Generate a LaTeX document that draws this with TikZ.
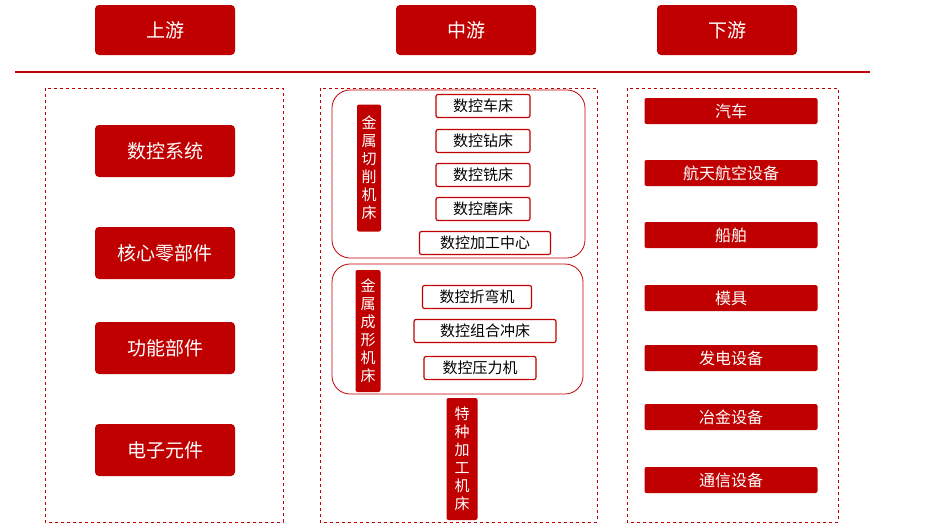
\documentclass[tikz,border=0pt]{standalone}
\usepackage{fontspec}
\setmainfont{Noto Sans CJK SC}
\definecolor{darkred}{RGB}{192,0,0}
\tikzset{
  head/.style={fill=darkred,rounded corners=4pt,text=white,minimum width=140pt,minimum height=50pt,font=\fontsize{19}{21}\selectfont},
  up/.style={fill=darkred,rounded corners=4pt,text=white,minimum width=140pt,minimum height=52pt,font=\fontsize{19}{21}\selectfont},
  down/.style={fill=darkred,rounded corners=2pt,text=white,minimum width=173pt,minimum height=26pt,font=\fontsize{16}{18}\selectfont},
  tool/.style={draw=darkred,line width=1.2pt,fill=white,rounded corners=2pt,text=black,inner sep=2pt,minimum height=23pt,font=\fontsize{15}{17}\selectfont},
  vert/.style={fill=darkred,text=white,rounded corners=2pt,inner sep=2pt,align=center,font=\fontsize{15}{18}\selectfont},
  grp/.style={draw=darkred,rounded corners=18pt,line width=0.8pt},
  frame/.style={draw=darkred,dashed,line width=0.8pt}
}
\begin{document}
\begin{tikzpicture}[x=1pt,y=-1pt]
  \useasboundingbox (0,0) rectangle (931,530);
  % headers
  \node[head] (hup) at (165,30) {上游};
  \node[head] (hmid) at (466,30) {中游};
  \node[head] (hdown) at (727,30) {下游};
  \draw[darkred,line width=2.5pt] (15,72) -- (870,72);
  % frames
  \draw[frame] (45,88) rectangle (283,522);
  \draw[frame] (320,88) rectangle (597,522);
  \draw[frame] (627,88) rectangle (838,522);
  % upstream
  \node[up] (u1) at (165,151) {数控系统};
  \node[up] (u2) at (165,253) {核心零部件};
  \node[up] (u3) at (165,348) {功能部件};
  \node[up] (u4) at (165,450) {电子元件};
  % midstream
  \draw[grp] (332,90) rectangle (585,258);
  \draw[grp] (332,264) rectangle (583,394);
  \node[vert,minimum width=24pt,minimum height=127pt] (cut) at (369,168) {金\\属\\切\\削\\机\\床};
  \node[tool,minimum width=94pt] (m1) at (483,106) {数控车床};
  \node[tool,minimum width=94pt] (m2) at (483,141) {数控钻床};
  \node[tool,minimum width=94pt] (m3) at (483,175) {数控铣床};
  \node[tool,minimum width=94pt] (m4) at (483,209) {数控磨床};
  \node[tool,minimum width=131pt] (m5) at (485,243) {数控加工中心};
  \node[vert,minimum width=25pt,minimum height=122pt] (form) at (368,331) {金\\属\\成\\形\\机\\床};
  \node[tool,minimum width=109pt] (f1) at (477,297) {数控折弯机};
  \node[tool,minimum width=142pt] (f2) at (485,331) {数控组合冲床};
  \node[tool,minimum width=112pt] (f3) at (480,368) {数控压力机};
  \node[vert,minimum width=31pt,minimum height=122pt] (spec) at (462,459) {特\\种\\加\\工\\机\\床};
  % downstream
  \node[down] (d1) at (731,111) {汽车};
  \node[down] (d2) at (731,173) {航天航空设备};
  \node[down] (d3) at (731,235) {船舶};
  \node[down] (d4) at (731,298) {模具};
  \node[down] (d5) at (731,358) {发电设备};
  \node[down] (d6) at (731,417) {冶金设备};
  \node[down] (d7) at (731,480) {通信设备};
\end{tikzpicture}
\end{document}
